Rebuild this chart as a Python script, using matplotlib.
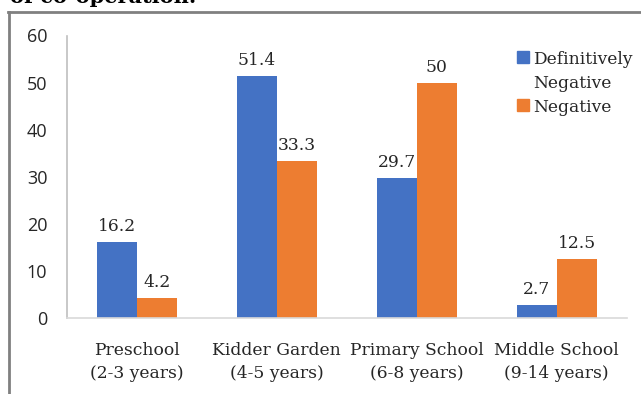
import matplotlib
matplotlib.use("Agg")
import matplotlib.pyplot as plt
import numpy as np
from matplotlib.patches import Rectangle
from matplotlib.lines import Line2D

categories = ["Preschool\n(2-3 years)", "Kidder Garden\n(4-5 years)",
              "Primary School\n(6-8 years)", "Middle School\n(9-14 years)"]
series_names = ["Definitively\nNegative", "Negative"]
def_negative = [16.2, 51.4, 29.7, 2.7]
negative = [4.2, 33.3, 50, 12.5]
value_labels_def = ["16.2", "51.4", "29.7", "2.7"]
value_labels_neg = ["4.2", "33.3", "50", "12.5"]
yticks = [0, 10, 20, 30, 40, 50, 60]

BLUE = "#4472C4"
ORANGE = "#ED7D31"
TXT = "#262626"
SERIF = ["DejaVu Serif"]
SANS = ["Open Sans", "DejaVu Sans"]
FS = 12.3

fig = plt.figure(figsize=(6.41, 3.94), dpi=100)
ax = fig.add_axes([66.7/641, 1-318/394, (626.7-66.7)/641, (318-35.5)/394])

x = np.arange(len(categories))
w = 40/140
b1 = ax.bar(x - w/2, def_negative, w, color=BLUE, label=series_names[0])
b2 = ax.bar(x + w/2, negative, w, color=ORANGE, label=series_names[1])

for bars, labs in ((b1, value_labels_def), (b2, value_labels_neg)):
    for r, t in zip(bars, labs):
        ax.annotate(t, (r.get_x() + r.get_width()/2, r.get_height()),
                    xytext=(0, 5), textcoords="offset points",
                    ha="center", va="bottom", fontsize=FS, family=SERIF,
                    color=TXT)

ax.set_xlim(-0.5, 3.5)
ax.set_ylim(0, 60)
ax.set_yticks(yticks)
ax.set_yticklabels([str(v) for v in yticks], family=SANS, fontsize=13, color=TXT)
ax.set_xticks(x)
ax.set_xticklabels(categories, family=SERIF, fontsize=FS, color=TXT,
                   linespacing=1.4)
ax.tick_params(axis="both", length=0)
ax.tick_params(axis="y", pad=14)
ax.tick_params(axis="x", pad=17.5)
for s in ("top", "right"):
    ax.spines[s].set_visible(False)
ax.spines["left"].set_color("#BFBFBF")
ax.spines["bottom"].set_color("#D9D9D9")
ax.spines["left"].set_linewidth(1.2)
ax.spines["bottom"].set_linewidth(1.2)

# legend (drawn manually to match the layout)
def px(xp, yp):
    return xp/641, 1 - yp/394

leg_items = [(BLUE, series_names[0], 57), (ORANGE, series_names[1], 105)]
for col, lab, yc in leg_items:
    fig.add_artist(Rectangle(px(517, yc + 6), 12/641, 12/394,
                             transform=fig.transFigure, color=col))
    for i, ln in enumerate(lab.split("\n")):
        fig.text(*px(533, yc + 24*i), ln, family=SERIF, fontsize=FS, color=TXT,
                 ha="left", va="center_baseline")

# outer frame of the image crop
fig.add_artist(Line2D([9/641, 9/641], [0, 1-12/394], transform=fig.transFigure,
                      color="#808080", lw=2))
fig.add_artist(Line2D([8/641, 1], [1-12/394, 1-12/394], transform=fig.transFigure,
                      color="#808080", lw=2))
fig.text(10/641, 1-3/394, "of co-operation.", family=SERIF, fontsize=15,
         fontweight="bold", va="baseline", ha="left")

fig.savefig("out.png", dpi=100)
